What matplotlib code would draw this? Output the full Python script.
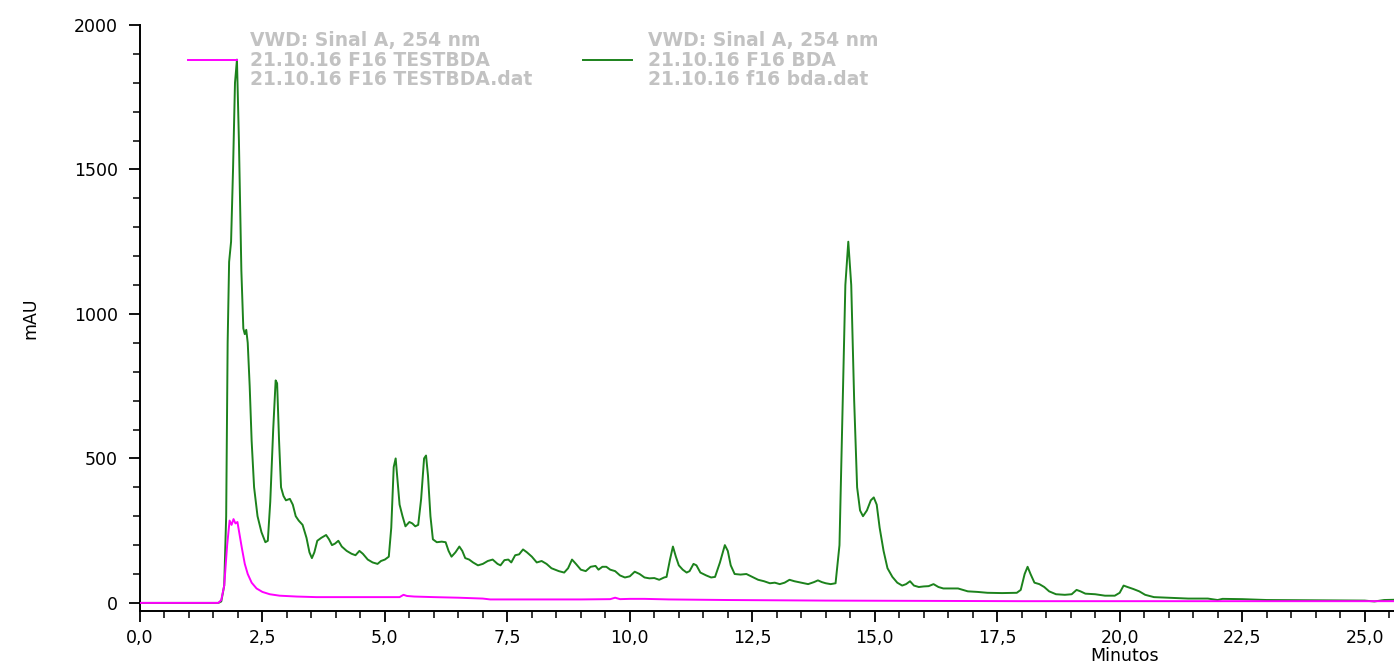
import matplotlib
matplotlib.use("Agg")
import matplotlib.pyplot as plt
from matplotlib.ticker import MultipleLocator, FuncFormatter

t_bda = [0.00, 1.60, 1.66, 1.72, 1.76, 1.79, 1.82, 1.86, 1.90, 1.94, 1.98, 2.02, 2.07, 2.11,
         2.14, 2.17, 2.20, 2.24, 2.28, 2.33, 2.40, 2.48, 2.56, 2.61, 2.66, 2.72, 2.77, 2.80,
         2.84, 2.88, 2.93, 2.98, 3.06, 3.12, 3.18, 3.24, 3.32, 3.40, 3.46, 3.51, 3.56, 3.62,
         3.70, 3.80, 3.86, 3.92, 3.98, 4.05, 4.12, 4.22, 4.32, 4.40, 4.48, 4.55, 4.65, 4.75,
         4.85, 4.92, 5.00, 5.08, 5.13, 5.18, 5.22, 5.26, 5.30, 5.36, 5.42, 5.50, 5.56, 5.62,
         5.68, 5.74, 5.80, 5.84, 5.88, 5.93, 5.98, 6.06, 6.16, 6.24, 6.30, 6.36, 6.44, 6.52,
         6.58, 6.64, 6.72, 6.80, 6.90, 7.00, 7.10, 7.20, 7.30, 7.36, 7.44, 7.52, 7.58, 7.66,
         7.74, 7.82, 7.90, 8.00, 8.10, 8.20, 8.30, 8.40, 8.55, 8.66, 8.74, 8.82, 8.90, 9.00,
         9.10, 9.20, 9.30, 9.36, 9.44, 9.52, 9.60, 9.70, 9.80, 9.90, 10.00, 10.10, 10.20,
         10.30, 10.40, 10.50, 10.60, 10.70, 10.75, 10.82, 10.88, 10.94, 11.00, 11.08, 11.16,
         11.22, 11.30, 11.36, 11.44, 11.56, 11.66, 11.74, 11.84, 11.94, 12.00, 12.06, 12.14,
         12.26, 12.38, 12.50, 12.62, 12.74, 12.86, 12.96, 13.06, 13.16, 13.26, 13.36, 13.50,
         13.64, 13.76, 13.84, 13.92, 14.00, 14.10, 14.20, 14.28, 14.34, 14.40, 14.46, 14.52,
         14.58, 14.64, 14.70, 14.76, 14.84, 14.92, 14.98, 15.04, 15.10, 15.18, 15.26, 15.36,
         15.46, 15.56, 15.64, 15.72, 15.80, 15.90, 16.00, 16.10, 16.20, 16.30, 16.40, 16.50,
         16.70, 16.80, 16.90, 17.10, 17.30, 17.60, 17.90, 17.98, 18.06, 18.12, 18.18, 18.26,
         18.36, 18.46, 18.56, 18.70, 18.88, 19.02, 19.12, 19.20, 19.30, 19.50, 19.70, 19.90,
         20.00, 20.08, 20.16, 20.28, 20.40, 20.52, 20.70, 21.00, 21.40, 21.80, 22.00, 22.10,
         22.50, 23.00, 24.00, 25.00, 25.20, 25.40, 25.90]
y_bda = [0, 0, 5, 60, 300, 900, 1180, 1250, 1500, 1800, 1880, 1600, 1150, 950,
         930, 945, 900, 750, 560, 400, 300, 245, 210, 215, 350, 600, 770, 760,
         560, 400, 370, 355, 360, 340, 300, 285, 270, 225, 175, 155, 175, 215,
         225, 235, 220, 200, 205, 215, 195, 180, 170, 165, 180, 170, 150, 140,
         135, 145, 150, 160, 260, 470, 500, 420, 340, 300, 265, 280, 275, 265,
         270, 360, 500, 510, 440, 300, 220, 210, 212, 210, 180, 160, 175, 195,
         180, 155, 150, 140, 130, 135, 145, 150, 135, 130, 148, 150, 140, 165,
         168, 185, 175, 160, 140, 145, 135, 120, 110, 105, 120, 150, 135, 115,
         110, 125, 128, 115, 125, 125, 115, 110, 95, 88, 92, 108, 100,
         88, 85, 86, 80, 88, 90, 150, 195, 160, 130, 115, 105,
         110, 135, 130, 105, 95, 88, 90, 140, 200, 180, 130, 100,
         98, 100, 90, 80, 75, 68, 70, 65, 70, 80, 75, 70,
         65, 72, 78, 72, 68, 65, 68, 200, 650, 1100, 1250, 1100,
         700, 400, 320, 300, 320, 355, 365, 340, 260, 180, 120, 90,
         70, 60, 65, 75, 60, 55, 57, 58, 65, 55, 50, 50,
         50, 45, 40, 38, 35, 34, 35, 45, 100, 125, 100, 70,
         65, 55, 40, 30, 28, 30, 45, 40, 32, 30, 25, 25,
         35, 60, 55, 48, 40, 28, 20, 18, 15, 15, 10, 14,
         13, 10, 9, 8, 5, 10, 12]

t_test = [0.00, 1.60, 1.66, 1.72, 1.78, 1.83, 1.87, 1.91, 1.95, 1.99, 2.03, 2.08, 2.14, 2.20,
          2.28, 2.38, 2.50, 2.65, 2.85, 3.20, 3.60, 4.50, 5.30, 5.38, 5.45, 5.60, 6.00, 6.50,
          7.00, 7.15, 8.00, 9.00, 9.60, 9.70, 9.80, 10.00, 10.30, 10.80, 12.00, 14.00, 16.00,
          18.00, 20.00, 22.00, 24.00, 25.90]
y_test = [0, 0, 10, 60, 200, 285, 270, 290, 275, 280, 240, 190, 135, 100,
          70, 50, 38, 30, 25, 22, 20, 20, 20, 28, 24, 22, 20, 18,
          15, 12, 12, 12, 13, 18, 13, 14, 14, 12, 10, 8, 7,
          6, 6, 6, 6, 6]

label_test = "VWD: Sinal A, 254 nm\n21.10.16 F16 TESTBDA\n21.10.16 F16 TESTBDA.dat"
label_bda = "VWD: Sinal A, 254 nm\n21.10.16 F16 BDA\n21.10.16 f16 bda.dat"

cor_test = "#ff00ff"
cor_bda = "#1c821c"
cor_texto = "#c2c2c2"

fig = plt.figure(figsize=(13.94, 6.69), dpi=100)
ax = fig.add_axes([0.1004, 0.0867, 0.8996, 0.876])

ax.plot(t_bda, y_bda, color=cor_bda, lw=1.4, zorder=2)
ax.plot(t_test, y_test, color=cor_test, lw=1.4, zorder=3)

ax.set_xlim(0, 25.6)
ax.set_ylim(-28, 2000)

for s in ["top", "right"]:
    ax.spines[s].set_visible(False)
for s in ["left", "bottom"]:
    ax.spines[s].set_linewidth(1.4)

ax.xaxis.set_major_locator(MultipleLocator(2.5))
ax.xaxis.set_minor_locator(MultipleLocator(0.5))
ax.yaxis.set_major_locator(MultipleLocator(500))
ax.yaxis.set_minor_locator(MultipleLocator(100))
ax.xaxis.set_major_formatter(FuncFormatter(lambda v, p: f"{v:.1f}".replace(".", ",")))
ax.yaxis.set_major_formatter(FuncFormatter(lambda v, p: f"{v:.0f}"))
ax.tick_params(which="major", length=8, width=1.3, labelsize=12.5, direction="out")
ax.tick_params(which="minor", length=5, width=1.1, direction="out")
ax.tick_params(axis="y", pad=8)
ax.tick_params(axis="x", pad=5)

ax.set_ylabel("mAU", fontsize=12.5, labelpad=25)
ax.set_xlabel("Minutos", fontsize=12.5, labelpad=4)
ax.xaxis.set_label_coords(0.785, -0.062)

# legenda desenhada a mao, como no software do HPLC
ax.plot([0.038, 0.077], [0.940, 0.940], color=cor_test, lw=1.4,
        transform=ax.transAxes, clip_on=False)
ax.text(0.0877, 0.940, label_test, transform=ax.transAxes, va="center", ha="left",
        fontsize=13.5, fontweight="bold", color=cor_texto, linespacing=1.05)
ax.plot([0.353, 0.392], [0.940, 0.940], color=cor_bda, lw=1.4,
        transform=ax.transAxes, clip_on=False)
ax.text(0.405, 0.940, label_bda, transform=ax.transAxes, va="center", ha="left",
        fontsize=13.5, fontweight="bold", color=cor_texto, linespacing=1.05)

fig.savefig("out.png", dpi=100)
